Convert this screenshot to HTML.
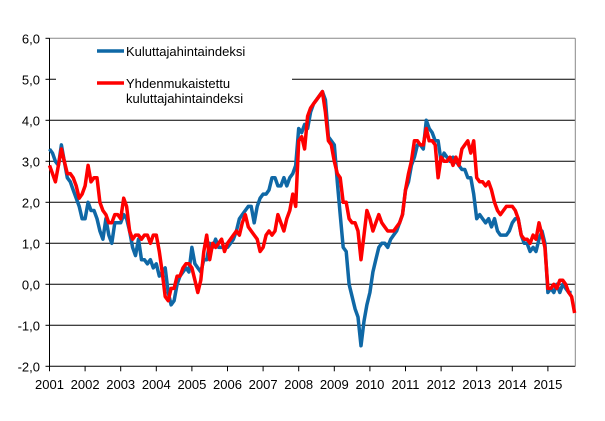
<!DOCTYPE html>
<html><head><meta charset="utf-8"><style>
body{margin:0;background:#fff;}
svg text{font-family:"Liberation Sans",Arial,sans-serif;font-size:13px;fill:#000;}
</style></head><body>
<svg id="chart" width="605" height="416" xmlns="http://www.w3.org/2000/svg">
<g id="grid"></g><g id="axes"></g><g id="series"></g>
<g>
<rect x="56" y="40" width="236" height="72" fill="#fff"/>
<line x1="97" y1="51" x2="124" y2="51" stroke="#0f68a6" stroke-width="3.5"/>
<text x="126" y="56">Kuluttajahintaindeksi</text>
<line x1="97" y1="83" x2="124" y2="83" stroke="#ff0000" stroke-width="3.5"/>
<text x="126" y="88">Yhdenmukaistettu</text>
<text x="126" y="103">kuluttajahintaindeksi</text>
</g>
</svg>
<script>
const years=[2001,2002,2003,2004,2005,2006,2007,2008,2009,2010,2011,2012,2013,2014,2015];
const yTicks=[6,5,4,3,2,1,0,-1,-2];
const yTickLabels=["6,0","5,0","4,0","3,0","2,0","1,0","0,0","-1,0","-2,0"];
const cpi=[3.3,3.2,3.0,2.9,3.4,3.0,2.6,2.5,2.3,2.1,1.9,1.6,
1.6,2.0,1.8,1.8,1.6,1.3,1.1,1.6,1.2,1.0,1.5,1.5,
1.5,1.7,1.6,1.3,0.9,0.7,1.1,0.6,0.6,0.5,0.6,0.4,
0.5,0.2,0.3,0.4,-0.2,-0.5,-0.4,0.0,0.2,0.3,0.4,0.3,
0.9,0.5,0.4,0.3,0.6,0.6,1.0,0.9,1.1,0.9,0.9,0.9,
0.9,1.0,1.1,1.3,1.6,1.7,1.8,1.9,1.9,1.5,1.9,2.1,
2.2,2.2,2.3,2.6,2.6,2.4,2.4,2.6,2.4,2.6,2.7,2.9,
3.8,3.7,3.9,3.8,4.2,4.4,4.5,4.6,4.7,4.5,3.6,3.5,
3.4,2.5,1.7,0.9,0.8,0.0,-0.3,-0.6,-0.8,-1.5,-0.9,-0.5,
-0.2,0.3,0.6,0.9,1.0,1.0,0.9,1.1,1.2,1.3,1.5,1.7,
2.3,2.5,2.9,3.1,3.4,3.4,3.3,4.0,3.8,3.7,3.5,3.5,
3.0,3.2,3.1,3.0,3.1,3.0,2.9,2.8,2.8,2.6,2.6,2.2,
1.6,1.7,1.6,1.5,1.6,1.4,1.6,1.3,1.2,1.2,1.2,1.3,
1.5,1.6,1.6,1.2,1.0,1.0,0.8,0.9,0.8,1.1,1.3,1.0,
-0.2,-0.1,-0.2,0.0,-0.2,0.0,-0.1,-0.2,-0.2];
const hicp=[2.9,2.7,2.5,2.9,3.3,3.0,2.7,2.7,2.6,2.4,2.1,2.2,
2.4,2.9,2.5,2.6,2.6,2.0,1.8,1.7,1.5,1.5,1.7,1.7,
1.6,2.1,1.9,1.3,1.1,1.2,1.2,1.1,1.2,1.2,1.0,1.2,
1.2,0.8,0.3,-0.3,-0.4,-0.1,-0.1,0.2,0.2,0.4,0.5,0.5,
0.4,0.1,-0.2,0.1,0.8,1.2,0.6,1.0,0.9,1.0,1.1,0.8,
1.0,1.1,1.2,1.3,1.2,1.5,1.7,1.4,1.3,1.2,1.1,0.8,
0.9,1.2,1.3,1.2,1.3,1.7,1.5,1.3,1.6,1.8,2.2,1.9,
3.5,3.6,3.3,4.1,4.3,4.4,4.5,4.6,4.7,4.2,3.5,3.4,
3.0,2.7,2.6,2.0,2.0,1.6,1.5,1.5,1.3,0.6,1.2,1.8,
1.6,1.3,1.5,1.7,1.5,1.4,1.3,1.3,1.3,1.4,1.5,1.7,
2.3,2.7,3.0,3.5,3.5,3.4,3.4,3.8,3.5,3.5,3.4,2.6,
3.1,3.0,3.0,3.1,2.9,3.1,2.9,3.3,3.4,3.5,3.2,3.5,
2.6,2.5,2.5,2.4,2.5,2.3,2.0,1.8,1.7,1.8,1.9,1.9,
1.9,1.8,1.6,1.2,1.1,1.1,1.0,1.2,1.1,1.5,1.2,0.9,
-0.1,-0.1,0.0,-0.1,0.1,0.1,0.0,-0.2,-0.3,-0.7];
const NS="http://www.w3.org/2000/svg";
const x0=49.5,pxYear=35.6,xEnd=575.3;
function xMonth(i){return x0+i*pxYear/12;}
function xYear(y){return x0+(y-2001)*pxYear;}
function yVal(v){return 284.3-v*41;}
function mk(tag,attrs,parent){const e=document.createElementNS(NS,tag);for(const k in attrs)e.setAttribute(k,attrs[k]);parent.appendChild(e);return e;}
const grid=document.getElementById('grid'),axes=document.getElementById('axes'),series=document.getElementById('series');
yTicks.forEach((t,i)=>{
  if(t!==-2){const l=mk('line',{x1:x0,x2:xEnd,y1:yVal(t),y2:yVal(t),stroke:t===6?'#888':'#000','stroke-width':1},grid);
  
  }
  const tk=mk('line',{x1:x0-4,x2:x0,y1:yVal(t),y2:yVal(t),stroke:'#000'},axes);
  
  
  const tx=mk('text',{x:40,y:yVal(t)+5,'text-anchor':'end'},axes);
  tx.textContent=yTickLabels[i];
  
  
});
const ya=mk('line',{x1:x0,x2:x0,y1:yVal(6),y2:yVal(-2),stroke:'#000'},axes);


const xa=mk('line',{x1:x0,x2:xEnd,y1:yVal(-2),y2:yVal(-2),stroke:'#000'},axes);


const ra=mk('line',{x1:xEnd,x2:xEnd,y1:yVal(6),y2:yVal(-2),stroke:'#888'},axes);


years.forEach(y=>{
  const tk=mk('line',{x1:xYear(y),x2:xYear(y),y1:yVal(-2),y2:yVal(-2)+5,stroke:'#000'},axes);
  
  
  const tx=mk('text',{x:xYear(y),y:389,'text-anchor':'middle'},axes);
  tx.textContent=y;
  
  
});
function line(arr,color,name){
  const d=arr.map((v,i)=>(i?'L':'M')+xMonth(i).toFixed(1)+','+yVal(v).toFixed(1)).join('');
  const p=mk('path',{d:d,fill:'none',stroke:color,'stroke-width':3.5,'stroke-linejoin':'round'},series);
  
  
}
line(cpi,'#0f68a6','cpi-line');
line(hicp,'#ff0000','hicp-line');
</script>
</body></html>
